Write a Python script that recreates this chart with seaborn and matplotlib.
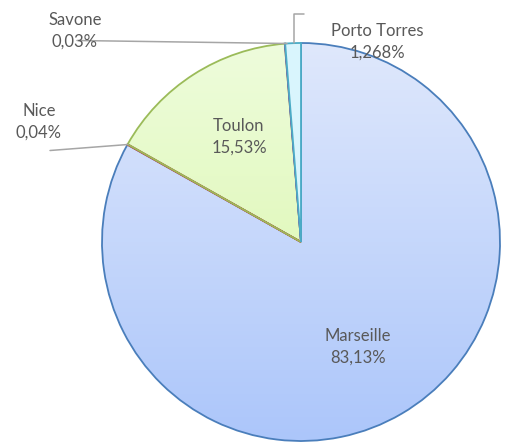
import numpy as np
import matplotlib
matplotlib.use("Agg")
import matplotlib.pyplot as plt
from matplotlib.lines import Line2D
from matplotlib.colors import LinearSegmentedColormap
import seaborn as sns

sns.set_theme(style="white")
plt.rcParams['font.family'] = ['Lato', 'DejaVu Sans']

# data (clockwise from 12 o'clock)
ports = ["Marseille", "Nice", "Toulon", "Savone", "Porto Torres"]
shares = [83.13, 0.04, 15.53, 0.03, 1.268]
share_labels = ["83,13%", "0,04%", "15,53%", "0,03%", "1,268%"]

fills = ["none", "#f2dcdb", "none", "#e5e0ec", "#d9f5fd"]
edges = ["#4a7ebb", "#c0504d", "#9bbb59", "#8064a2", "#4bacc6"]
grads = {0: ("#dfe8fc", "#acc6fa"), 2: ("#eefcdc", "#d6f6a2")}

W, H = 506, 445
fig = plt.figure(figsize=(W / 100, H / 100), dpi=100)
cx, cy, r = 301, 242, 199
ax = fig.add_axes([(cx - r) / W, 1 - (cy + r) / H, 2 * r / W, 2 * r / H])

wedges, _ = ax.pie(shares, startangle=90, counterclock=False, radius=1,
                   colors=[f if f != "none" else "white" for f in fills],
                   wedgeprops=dict(linewidth=1.3))
for i, w in enumerate(wedges):
    w.set_edgecolor(edges[i])
    w.set_zorder(2)
    if i in grads:
        w.set_facecolor("none")
        cmap = LinearSegmentedColormap.from_list("g%d" % i, list(grads[i]))
        grad = np.linspace(0, 1, 256).reshape(-1, 1)
        im = ax.imshow(grad, cmap=cmap, extent=[-1, 1, -1, 1], origin="upper",
                       aspect="auto", zorder=1)
        im.set_clip_path(w)

ax.set_xlim(-1, 1)
ax.set_ylim(-1, 1)
ax.set_aspect("auto")
ax.axis("off")


def fp(x, y):
    return x / W, 1 - y / H


label_pos = {"Porto Torres": (377, 42), "Marseille": (358, 347), "Nice": (39, 122),
             "Toulon": (239, 137), "Savone": (75, 31)}
for name, lab in zip(ports, share_labels):
    x, y = fp(*label_pos[name])
    fig.text(x, y, f"{name}\n{lab}", ha="center", va="center", fontsize=12,
             color="#595959", linespacing=1.45, zorder=5)

leaders = [
    [(77, 40.5), (287, 43.5)],
    [(50, 150.5), (128, 144.5)],
    [(294.5, 43), (294.5, 13.5), (304, 13.5)],
]
for pts in leaders:
    xs, ys = zip(*[fp(*p) for p in pts])
    fig.add_artist(Line2D(xs, ys, color="#a6a6a6", lw=1.1, zorder=4))

fig.savefig("out.png", dpi=100)
